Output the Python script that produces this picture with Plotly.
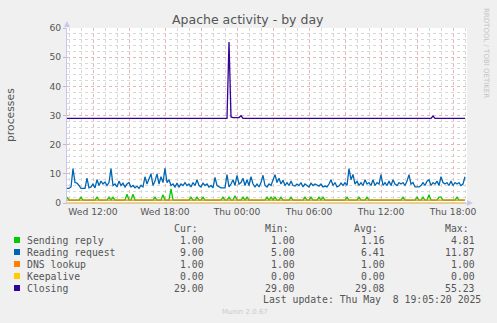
import plotly.graph_objects as go
import pandas as pd

# ---- data (10-minute samples) ----
start_time = "2025-05-07 09:50"
n_points = 200

sending_reply = [
    2, 1, 1, 1, 1, 1, 1, 2, 1, 1, 1, 1, 1, 1, 1, 2, 1, 1, 1, 1,
    1, 2, 1, 2, 1, 1, 1, 1, 1, 1, 3, 1, 1, 3, 1, 1, 1, 1, 1, 1,
    1, 1, 1, 1, 2, 1, 1, 1, 2.8, 1, 1, 1, 4.81, 1, 1, 1, 1, 1, 1, 1,
    1, 1, 2, 1, 1, 2, 1, 1, 2, 1, 1, 1, 1, 1, 1, 1, 1, 1, 2, 1,
    1, 2, 1, 1, 2.5, 1, 1, 1, 2, 1, 2, 1, 1, 1, 1, 1, 1, 1, 1, 1,
    2, 1, 2, 1, 2, 1, 1, 2, 1, 1, 1, 1, 2, 1, 1, 1, 1, 1, 1, 2,
    1, 1, 2, 1, 1, 1, 2, 1, 2, 1, 1, 1, 1, 1, 1, 1, 1, 1, 1, 1,
    2, 1, 1, 1, 1, 1, 2, 1, 1, 1, 2, 1, 1, 1, 1, 1, 1, 1, 1, 1,
    1, 1, 1, 1, 1, 1, 1, 1, 2, 1, 1, 1, 1, 1, 1, 2, 1, 1, 2, 1,
    1, 2.8, 1, 1, 1, 1, 2, 2, 1, 1, 1, 1, 1, 1, 1, 2, 1, 1, 1, 1,
]

reading_request = [
    5, 5, 5.5, 11.8, 7, 6.8, 6, 5, 5, 5, 8.5, 5.2, 5.5, 6.5, 5.2, 8, 6, 7.5, 6.5, 7.2,
    6, 7, 11.8, 6, 6.5, 5.5, 7.5, 6, 6.8, 5.5, 6.5, 7, 5.5, 6, 5.2, 5.8, 5, 6, 5.5, 9,
    6.5, 8, 10, 6, 7.5, 10, 6.5, 9, 7, 11.87, 7, 8, 6, 6.5, 5.5, 6.8, 5.5, 6.5, 6, 7,
    6, 6.5, 5.5, 7, 6, 8, 6, 5.5, 6.8, 6, 6.5, 5.5, 6, 5.2, 8.8, 6, 5.5, 5.2, 5.2, 5.2,
    9.7, 5.5, 6.5, 8, 6, 9.5, 6.5, 7, 8.5, 6, 8, 6, 9, 6.5, 5.5, 6.5, 5.5, 7, 9.5, 6,
    5.5, 6.5, 6, 8, 9.7, 7, 8.5, 6.5, 7.8, 6, 7, 6, 7.5, 6, 5.8, 6.5, 6, 7, 5.5, 6.5,
    6, 5.5, 6.8, 6, 6.5, 6, 5.8, 6.5, 5.5, 5.8, 5.5, 6.5, 8, 6, 7, 5.5, 5.8, 6.8, 6, 7,
    6, 11.8, 8, 9.8, 6.5, 7.5, 6, 7, 6, 8, 6.5, 7, 6, 8, 6, 7, 6.5, 9.7, 6, 7,
    6, 7.5, 6, 8, 6.5, 6, 7, 6.5, 7, 6, 7.5, 9.7, 6.5, 7, 5.5, 5.5, 5.5, 6, 7, 6,
    7.5, 8, 6, 7, 6.5, 7.5, 6, 9, 7, 6.5, 7, 6, 7.5, 6, 7, 6.5, 7, 6, 6.5, 9,
]

dns_lookup = [
    1, 1, 1, 1, 1, 1, 1, 1, 1, 1, 1, 1, 1, 1, 1, 1, 1, 1, 1, 1,
    1, 1, 1, 1, 1, 1, 1, 1, 1, 1, 1, 1, 1, 1, 1, 1, 1, 1, 1, 1,
    1, 1, 1, 1, 1, 1, 1, 1, 1, 1, 1, 1, 1, 1, 1, 1, 1, 1, 1, 1,
    1, 1, 1, 1, 1, 1, 1, 1, 1, 1, 1, 1, 1, 1, 1, 1, 1, 1, 1, 1,
    1, 1, 1, 1, 1, 1, 1, 1, 1, 1, 1, 1, 1, 1, 1, 1, 1, 1, 1, 1,
    1, 1, 1, 1, 1, 1, 1, 1, 1, 1, 1, 1, 1, 1, 1, 1, 1, 1, 1, 1,
    1, 1, 1, 1, 1, 1, 1, 1, 1, 1, 1, 1, 1, 1, 1, 1, 1, 1, 1, 1,
    1, 1, 1, 1, 1, 1, 1, 1, 1, 1, 1, 1, 1, 1, 1, 1, 1, 1, 1, 1,
    1, 1, 1, 1, 1, 1, 1, 1, 1, 1, 1, 1, 1, 1, 1, 1, 1, 1, 1, 1,
    1, 1, 1, 1, 1, 1, 1, 1, 1, 1, 1, 1, 1, 1, 1, 1, 1, 1, 1, 1,
]

keepalive = [
    0, 0, 0, 0, 0, 0, 0, 0, 0, 0, 0, 0, 0, 0, 0, 0, 0, 0, 0, 0,
    0, 0, 0, 0, 0, 0, 0, 0, 0, 0, 0, 0, 0, 0, 0, 0, 0, 0, 0, 0,
    0, 0, 0, 0, 0, 0, 0, 0, 0, 0, 0, 0, 0, 0, 0, 0, 0, 0, 0, 0,
    0, 0, 0, 0, 0, 0, 0, 0, 0, 0, 0, 0, 0, 0, 0, 0, 0, 0, 0, 0,
    0, 0, 0, 0, 0, 0, 0, 0, 0, 0, 0, 0, 0, 0, 0, 0, 0, 0, 0, 0,
    0, 0, 0, 0, 0, 0, 0, 0, 0, 0, 0, 0, 0, 0, 0, 0, 0, 0, 0, 0,
    0, 0, 0, 0, 0, 0, 0, 0, 0, 0, 0, 0, 0, 0, 0, 0, 0, 0, 0, 0,
    0, 0, 0, 0, 0, 0, 0, 0, 0, 0, 0, 0, 0, 0, 0, 0, 0, 0, 0, 0,
    0, 0, 0, 0, 0, 0, 0, 0, 0, 0, 0, 0, 0, 0, 0, 0, 0, 0, 0, 0,
    0, 0, 0, 0, 0, 0, 0, 0, 0, 0, 0, 0, 0, 0, 0, 0, 0, 0, 0, 0,
]

closing = [
    29, 29, 29, 29, 29, 29, 29, 29, 29, 29, 29, 29, 29, 29, 29, 29, 29, 29, 29, 29,
    29, 29, 29, 29, 29, 29, 29, 29, 29, 29, 29, 29, 29, 29, 29, 29, 29, 29, 29, 29,
    29, 29, 29, 29, 29, 29, 29, 29, 29, 29, 29, 29, 29, 29, 29, 29, 29, 29, 29, 29,
    29, 29, 29, 29, 29, 29, 29, 29, 29, 29, 29, 29, 29, 29, 29, 29, 29, 29, 29, 29,
    29, 55.23, 29.5, 29.3, 29.3, 29.3, 29.3, 29.9, 29, 29, 29, 29, 29, 29, 29, 29, 29, 29, 29, 29,
    29, 29, 29, 29, 29, 29, 29, 29, 29, 29, 29, 29, 29, 29, 29, 29, 29, 29, 29, 29,
    29, 29, 29, 29, 29, 29, 29, 29, 29, 29, 29, 29, 29, 29, 29, 29, 29, 29, 29, 29,
    29, 29, 29, 29, 29, 29, 29, 29, 29, 29, 29, 29, 29, 29, 29, 29, 29, 29, 29, 29,
    29, 29, 29, 29, 29, 29, 29, 29, 29, 29, 29, 29, 29, 29, 29, 29, 29, 29, 29, 29,
    29, 29, 29, 29.8, 29, 29, 29, 29, 29, 29, 29, 29, 29, 29, 29, 29, 29, 29, 29, 29,
]

series_names = ["Sending reply", "Reading request", "DNS lookup", "Keepalive", "Closing"]
series_colors = ["#00CC00", "#0066B3", "#FF8000", "#FFCC00", "#330099"]
series_data = [sending_reply, reading_request, dns_lookup, keepalive, closing]

stat_cur = ["1.00", "9.00", "1.00", "0.00", "29.00"]
stat_min = ["1.00", "5.00", "1.00", "0.00", "29.00"]
stat_avg = ["1.16", "6.41", "1.00", "0.00", "29.08"]
stat_max = ["4.81", "11.87", "1.00", "0.00", "55.23"]

x_tick_vals = ["2025-05-07 12:00", "2025-05-07 15:00", "2025-05-07 18:00", "2025-05-07 21:00",
               "2025-05-08 00:00", "2025-05-08 03:00", "2025-05-08 06:00", "2025-05-08 09:00",
               "2025-05-08 12:00", "2025-05-08 15:00", "2025-05-08 18:00"]
x_tick_text = ["Wed 12:00", "", "Wed 18:00", "", "Thu 00:00", "", "Thu 06:00", "",
               "Thu 12:00", "", "Thu 18:00"]
x_range = ["2025-05-07 09:50", "2025-05-08 19:10"]

title_text = "Apache activity - by day"
y_title = "processes"
last_update = "Last update: Thu May  8 19:05:20 2025"

# ---- figure ----
W, H = 497, 323
L, R, T, B = 67, 30, 28, 120
PW, PH = W - L - R, H - T - B


def px(x):
    return (x - L) / PW


def py(y):
    return (T + PH - y) / PH


times = pd.date_range(start_time, periods=n_points, freq="10min")

fig = go.Figure()
for name, color, vals in zip(series_names, series_colors, series_data):
    fig.add_trace(go.Scatter(x=times, y=vals, mode="lines", name=name,
                             line=dict(color=color, width=1.3), hoverinfo="skip"))

grid_major = "#EBB4B4"
grid_minor = "#D8D8D8"
axis_col = "#C8C8EE"
txt = "#555555"

fig.update_layout(
    width=W, height=H,
    margin=dict(l=L, r=R, t=T, b=B),
    paper_bgcolor="#F0F0F0", plot_bgcolor="#FFFFFF",
    showlegend=False,
    font=dict(family="DejaVu Sans", color=txt),
)
fig.update_xaxes(
    type="date", range=x_range,
    tickmode="array", tickvals=x_tick_vals, ticktext=x_tick_text,
    showgrid=True, gridcolor=grid_major, griddash="dot", gridwidth=1,
    minor=dict(dtick=3600000, tick0="2025-05-07 00:00", showgrid=True,
               gridcolor=grid_minor, griddash="dot", gridwidth=1),
    showline=True, linecolor=axis_col, linewidth=1,
    zeroline=False, ticks="", tickfont=dict(size=9.2, color=txt, family="DejaVu Sans"),
)
fig.update_yaxes(
    range=[0, 60], dtick=10, tick0=0,
    showgrid=True, gridcolor=grid_major, griddash="dot", gridwidth=1,
    minor=dict(dtick=2, showgrid=True, gridcolor=grid_minor, griddash="dot", gridwidth=1),
    showline=True, linecolor=axis_col, linewidth=1,
    zeroline=False, ticks="outside", ticklen=3, tickcolor="#E0B0B0",
    tickfont=dict(size=9.2, color=txt, family="DejaVu Sans"),
)

ann = []
ann.append(dict(x=px(248), y=py(19), xref="paper", yref="paper", text=title_text,
                showarrow=False, font=dict(size=12.5, color=txt, family="DejaVu Sans"),
                xanchor="center", yanchor="middle"))
ann.append(dict(x=px(10), y=py(115), xref="paper", yref="paper", text=y_title,
                showarrow=False, textangle=-90,
                font=dict(size=10.8, color=txt, family="DejaVu Sans"),
                xanchor="center", yanchor="middle"))
ann.append(dict(x=px(486), y=py(53), xref="paper", yref="paper", text="RRDTOOL / TOBI OETIKER",
                showarrow=False, textangle=90,
                font=dict(size=7, color="#C4C4C4", family="DejaVu Sans"),
                xanchor="center", yanchor="middle"))
ann.append(dict(x=px(245), y=py(312), xref="paper", yref="paper", text="Munin 2.0.67",
                showarrow=False, font=dict(size=7, color="#CCCCCC", family="DejaVu Sans"),
                xanchor="center", yanchor="middle"))

mono = dict(family="DejaVu Sans Mono", size=9.8, color=txt)
header_y = 228
row_y0, row_dy = 240, 12
for label, xr in [("Cur:", 200), ("Min:", 291), ("Avg:", 380), ("Max:", 471)]:
    ann.append(dict(x=px(xr), y=py(header_y), xref="paper", yref="paper", text=label,
                    showarrow=False, font=mono, xanchor="right", yanchor="middle"))

shapes = []
for i, (name, color) in enumerate(zip(series_names, series_colors)):
    yc = row_y0 + i * row_dy
    shapes.append(dict(type="rect", xref="paper", yref="paper",
                       x0=px(14), x1=px(20), y0=py(yc - 3), y1=py(yc + 3),
                       fillcolor=color, line=dict(width=0)))
    ann.append(dict(x=px(25), y=py(yc), xref="paper", yref="paper", text=name,
                    showarrow=False, font=mono, xanchor="left", yanchor="middle"))
    for col, xr in [(stat_cur, 206), (stat_min, 297), (stat_avg, 387), (stat_max, 477)]:
        ann.append(dict(x=px(xr), y=py(yc), xref="paper", yref="paper", text=col[i],
                        showarrow=False, font=mono, xanchor="right", yanchor="middle"))

ann.append(dict(x=px(483), y=py(299), xref="paper", yref="paper", text=last_update,
                showarrow=False, font=mono, xanchor="right", yanchor="middle"))

# axis arrows
shapes.append(dict(type="path", xref="paper", yref="paper",
                   path=f"M {px(64)} {py(27)} L {px(70)} {py(27)} L {px(67)} {py(21)} Z",
                   fillcolor=axis_col, line=dict(width=0)))
shapes.append(dict(type="path", xref="paper", yref="paper",
                   path=f"M {px(467)} {py(200)} L {px(467)} {py(206)} L {px(473)} {py(203)} Z",
                   fillcolor=axis_col, line=dict(width=0)))

fig.update_layout(annotations=ann, shapes=shapes)
fig.write_html("out.html")
